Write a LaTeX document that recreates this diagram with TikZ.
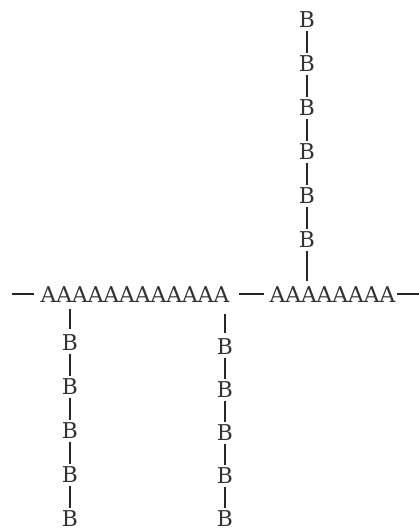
\documentclass[tikz,border=0pt]{standalone}
\usepackage{fontspec}
\setmainfont{DejaVu Serif}
\begin{document}
\begin{tikzpicture}[x=1pt,y=-1pt,
  lbl/.style={inner sep=0pt, outer sep=0pt, text=black!80, font=\fontsize{21.8}{24}\selectfont},
  bond/.style={draw=black!85, line width=1.2pt},
  bb/.style={bond, shorten <=3pt, shorten >=3pt}]
\useasboundingbox (0,0) rectangle (419,531);
% main chains
\node[lbl] (c1) at (135,295) {AAAAAAAAAAAA};
\node[lbl] (c2) at (332.5,295) {AAAAAAAA};
\coordinate (lend) at (12,294);
\coordinate (rend) at (419,294);
\draw[bond, shorten >=7pt] (lend) -- (lend -| c1.west);
\draw[bond, shorten <=10pt, shorten >=6pt] (c1.east |- lend) -- (c2.west |- lend);
\draw[bond, shorten <=2pt] (c2.east |- rend) -- (rend);
% top column
\foreach \i/\y in {1/20,2/64,3/108,4/152,5/196,6/240}
  \node[lbl] (t\i) at (307,\y) {B};
\foreach \a/\b in {1/2,2/3,3/4,4/5,5/6}
  \draw[bb] (t\a) -- (t\b);
\draw[bond, shorten <=3pt, shorten >=6pt] (t6) -- (t6 |- c2.north);
% bottom-left column
\foreach \i/\y in {1/343,2/387,3/431,4/475,5/519}
  \node[lbl] (l\i) at (70,\y) {B};
\foreach \a/\b in {1/2,2/3,3/4,4/5}
  \draw[bb] (l\a) -- (l\b);
\draw[bond, shorten <=6pt, shorten >=6pt] (l1 |- c1.south) -- (l1);
% bottom-right column
\foreach \i/\y in {1/347,2/390,3/433,4/476,5/519}
  \node[lbl] (r\i) at (225,\y) {B};
\foreach \a/\b in {1/2,2/3,3/4,4/5}
  \draw[bb] (r\a) -- (r\b);
\draw[bond, shorten <=11pt, shorten >=6pt] (r1 |- c1.south) -- (r1);
\end{tikzpicture}
\end{document}
